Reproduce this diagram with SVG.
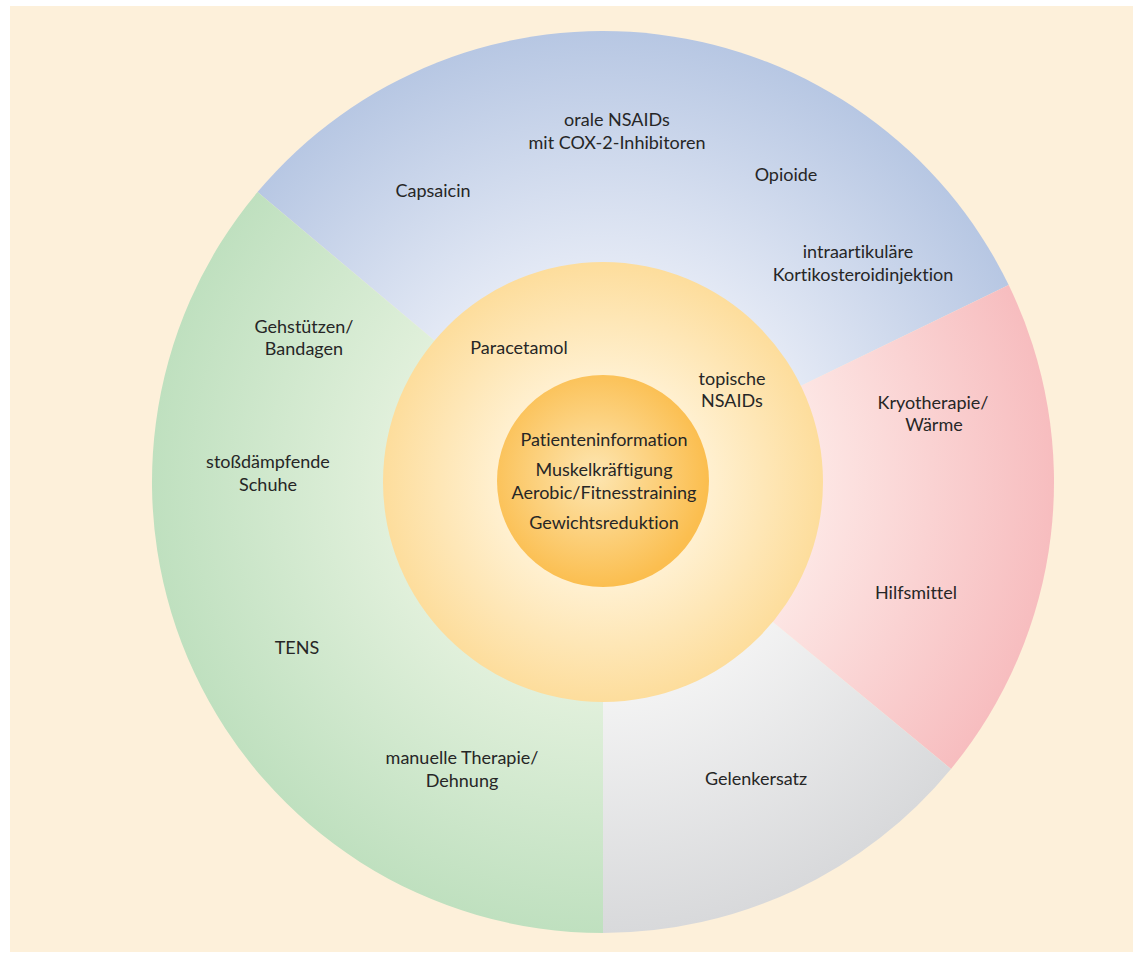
<svg xmlns="http://www.w3.org/2000/svg" width="1133" height="953" viewBox="0 0 1133 953">
  <style>
    .lbl { font-family: Lato, "Open Sans", "Liberation Sans", sans-serif; font-size: 18px; fill: #262626; text-anchor: middle; font-variant-ligatures: none; font-feature-settings: "liga" 0, "dlig" 0; }
  </style>
  <defs>
    <radialGradient id="gBlue" gradientUnits="userSpaceOnUse" cx="603" cy="482" r="451">
      <stop offset="0.45" stop-color="#e6ebf6"/>
      <stop offset="1" stop-color="#b7c7e3"/>
    </radialGradient>
    <radialGradient id="gPink" gradientUnits="userSpaceOnUse" cx="603" cy="482" r="451">
      <stop offset="0.45" stop-color="#fde8e6"/>
      <stop offset="1" stop-color="#f7bdbf"/>
    </radialGradient>
    <radialGradient id="gGray" gradientUnits="userSpaceOnUse" cx="603" cy="482" r="451">
      <stop offset="0.45" stop-color="#f4f4f4"/>
      <stop offset="1" stop-color="#d8d9db"/>
    </radialGradient>
    <radialGradient id="gGreen" gradientUnits="userSpaceOnUse" cx="603" cy="482" r="451">
      <stop offset="0.45" stop-color="#e3f1dd"/>
      <stop offset="1" stop-color="#bfe0bf"/>
    </radialGradient>
    <radialGradient id="gRing" gradientUnits="userSpaceOnUse" cx="603" cy="482" r="220">
      <stop offset="0.48" stop-color="#fff0d0"/>
      <stop offset="1" stop-color="#fddd9c"/>
    </radialGradient>
    <radialGradient id="gCore" gradientUnits="userSpaceOnUse" cx="595" cy="475" r="112">
      <stop offset="0" stop-color="#fde6b2"/>
      <stop offset="1" stop-color="#fbbe4f"/>
    </radialGradient>
  </defs>

  <!-- page panel -->
  <rect x="10" y="6" width="1123" height="946" fill="#fdf0da"/>

  <!-- outer sectors -->
  <g id="sector-medication">
    <path d="M603,482 L257.5,192.1 A451,451 0 0 1 1008.7,285 Z" fill="url(#gBlue)"/>
    <text class="lbl" x="617" y="126">orale NSAIDs</text>
    <text class="lbl" x="617" y="149">mit COX-2-Inhibitoren</text>
    <text class="lbl" x="433" y="197">Capsaicin</text>
    <text class="lbl" x="786" y="181">Opioide</text>
    <text class="lbl" x="858" y="258">intraartikuläre</text>
    <text class="lbl" x="863" y="281">Kortikosteroidinjektion</text>
  </g>

  <g id="sector-physical">
    <path d="M603,482 L1008.7,285 A451,451 0 0 1 951,768.9 Z" fill="url(#gPink)"/>
    <text class="lbl" x="933" y="409">Kryotherapie/</text>
    <text class="lbl" x="934" y="431">Wärme</text>
    <text class="lbl" x="916" y="599">Hilfsmittel</text>
  </g>

  <g id="sector-surgery">
    <path d="M603,482 L951,768.9 A451,451 0 0 1 603,933 Z" fill="url(#gGray)"/>
    <text class="lbl" x="756" y="785">Gelenkersatz</text>
  </g>

  <g id="sector-aids">
    <path d="M603,482 L603,933 A451,451 0 0 1 257.5,192.1 Z" fill="url(#gGreen)"/>
    <text class="lbl" x="304" y="333">Gehstützen/</text>
    <text class="lbl" x="304" y="355">Bandagen</text>
    <text class="lbl" x="268" y="468">stoßdämpfende</text>
    <text class="lbl" x="268" y="491">Schuhe</text>
    <text class="lbl" x="297" y="654">TENS</text>
    <text class="lbl" x="462" y="764">manuelle Therapie/</text>
    <text class="lbl" x="462" y="787">Dehnung</text>
  </g>

  <!-- middle ring -->
  <g id="ring-first-line">
    <circle cx="603" cy="482" r="220" fill="url(#gRing)"/>
    <text class="lbl" x="519" y="354">Paracetamol</text>
    <text class="lbl" x="732" y="385">topische</text>
    <text class="lbl" x="732" y="407">NSAIDs</text>
  </g>

  <!-- core -->
  <g id="core-basis">
    <circle cx="603" cy="481" r="106" fill="url(#gCore)"/>
    <text class="lbl" x="604" y="446">Patienteninformation</text>
    <text class="lbl" x="604" y="476">Muskelkräftigung</text>
    <text class="lbl" x="604" y="499">Aerobic/Fitnesstraining</text>
    <text class="lbl" x="604" y="529">Gewichtsreduktion</text>
  </g>

  <!-- no connectors in this chart -->
  <g id="connectors"/>
</svg>
